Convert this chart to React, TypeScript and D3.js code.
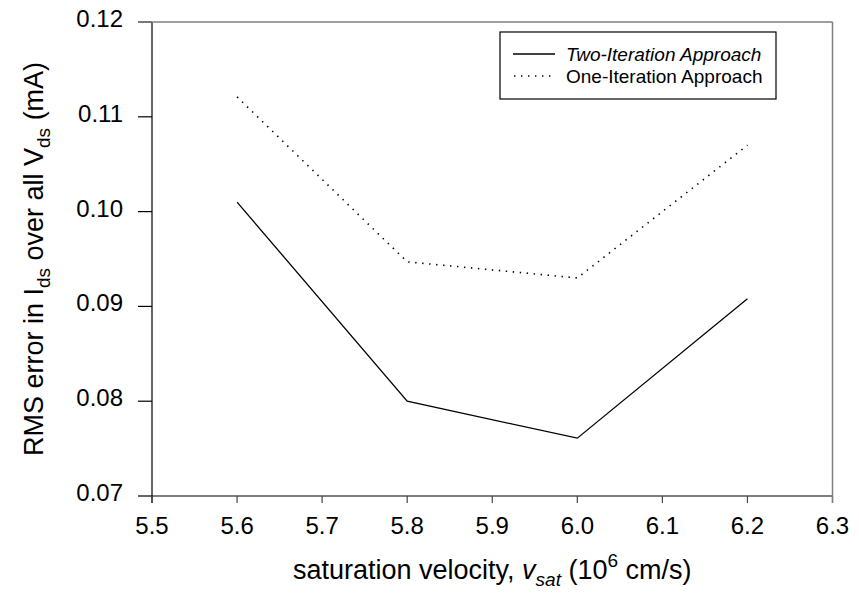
import React from 'react';
import * as d3 from 'd3';

// values
const velocities = [5.6, 5.8, 6.0, 6.2];
const twoIteration = [0.101, 0.08, 0.0761, 0.0908];
const oneIteration = [0.1121, 0.0947, 0.093, 0.107];
const xTicks = [5.5, 5.6, 5.7, 5.8, 5.9, 6.0, 6.1, 6.2, 6.3];
const yTicks = [0.07, 0.08, 0.09, 0.1, 0.11, 0.12];
const legendLabels = ['Two-Iteration Approach', 'One-Iteration Approach'];

const W = 859;
const H = 598;
const FONT = '"Liberation Sans", Arial, sans-serif';

export default function App() {
  const margin = { top: 22, right: 26.5, bottom: 102, left: 152 };
  const x = d3.scaleLinear().domain([5.5, 6.3]).range([margin.left, W - margin.right]);
  const y = d3.scaleLinear().domain([0.07, 0.12]).range([H - margin.bottom, margin.top]);
  const x0 = x.range()[0], x1 = x.range()[1];
  const y0 = y.range()[0], y1 = y.range()[1];

  const line = d3.line<number>().x((_, i) => x(velocities[i])).y(d => y(d));

  // legend box
  const lg = { x: 500, y: 32, w: 276, h: 67 };
  const rowY = [lg.y + 22, lg.y + 44];

  return (
    <div style={{ position: 'absolute', left: 0, top: 0 }}>
      <svg width={W} height={H} style={{ display: 'block', background: '#fff' }} fontFamily={FONT}>
        {/* y axis */}
        <line x1={x0} x2={x0} y1={y1} y2={y0 + 7} stroke="#000" strokeWidth={1.2} />
        {yTicks.map(t => (
          <g key={t}>
            <line x1={x0 - 14} x2={x0} y1={y(t)} y2={y(t)} stroke="#000" strokeWidth={1.2} />
            <text x={x0 - 29} y={y(t) + 5} textAnchor="end" fontSize={24}>{d3.format('.2f')(t)}</text>
          </g>
        ))}
        {/* x axis */}
        <line x1={x0} x2={x1} y1={y0} y2={y0} stroke="#000" strokeWidth={1.2} />
        {xTicks.map(t => (
          <g key={t}>
            <line x1={x(t)} x2={x(t)} y1={y0} y2={y0 + 7} stroke="#444" strokeWidth={1.2} />
            <text x={x(t)} y={y0 + 38} textAnchor="middle" fontSize={24}>{d3.format('.1f')(t)}</text>
          </g>
        ))}
        {/* frame top/right in gray */}
        <line x1={x0 - 14} x2={x1} y1={y1} y2={y1} stroke="#7f7f7f" strokeWidth={1.5} />
        <line x1={x1} x2={x1} y1={y1} y2={y0 + 7} stroke="#7f7f7f" strokeWidth={1.5} />

        {/* series */}
        <path d={line(oneIteration) || ''} fill="none" stroke="#000" strokeWidth={1.6}
          strokeDasharray="1.4 5.6" />
        <path d={line(twoIteration) || ''} fill="none" stroke="#000" strokeWidth={1.3} />

        {/* legend */}
        <rect x={lg.x} y={lg.y} width={lg.w} height={lg.h} fill="#fff" stroke="#000" strokeWidth={1.2} />
        <line x1={513} x2={555} y1={rowY[0]} y2={rowY[0]} stroke="#000" strokeWidth={1.3} />
        <line x1={514} x2={556} y1={rowY[1]} y2={rowY[1]} stroke="#000" strokeWidth={1.6} strokeDasharray="1.4 5.6" />
        <text x={566} y={rowY[0] + 7} fontSize={19} fontStyle="italic">{legendLabels[0]}</text>
        <text x={566} y={rowY[1] + 7} fontSize={19}>{legendLabels[1]}</text>

        {/* x title */}
        <text x={(x0 + x1) / 2} y={579} textAnchor="middle" fontSize={27}>
          saturation velocity, <tspan fontStyle="italic">v</tspan>
          <tspan fontStyle="italic" fontSize={19} dy={7}>sat</tspan>
          <tspan dy={-7}> (10</tspan>
          <tspan fontSize={19} dy={-12}>6</tspan>
          <tspan dy={12}> cm/s)</tspan>
        </text>

        {/* y title */}
        <text transform={`translate(43,${(y0 + y1) / 2}) rotate(-90)`} textAnchor="middle" fontSize={27}>
          RMS error in I<tspan fontSize={19} dy={7}>ds</tspan>
          <tspan dy={-7}> over all V</tspan>
          <tspan fontSize={19} dy={7}>ds</tspan>
          <tspan dy={-7}> (mA)</tspan>
        </text>
      </svg>
    </div>
  );
}
